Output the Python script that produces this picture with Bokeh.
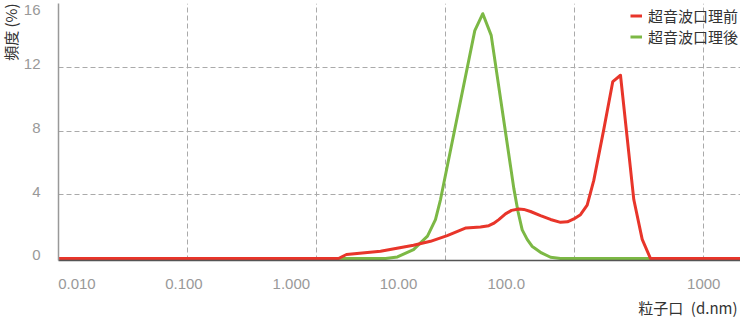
import math
from bokeh.plotting import figure
from bokeh.models import FixedTicker, Range1d, Title, Legend, LegendItem
from bokeh.embed import file_html
from bokeh.resources import INLINE

# --- data (particle size in nm, frequency in %) ---
size_before = [0.01, 1.481, 1.708, 3.135, 5.65, 7.65, 10.31, 14.42, 18.67, 21.66, 23.56,
               25.89, 29.18, 32.49, 37.0, 40.45, 45.6, 54.5, 65.2, 77.9, 88.2, 98.8,
               111.3, 125.4, 141.1, 168.7, 198.1, 227.3, 288.2, 334.9, 388.2, 1936]
freq_before = [0, 0, 0.25, 0.45, 0.83, 1.08, 1.44, 1.92, 1.98, 2.06, 2.2,
               2.44, 2.8, 3.02, 3.1, 3.08, 2.95, 2.69, 2.45, 2.27, 2.3, 2.48,
               2.75, 3.35, 4.9, 8.1, 11.1, 11.5, 3.7, 1.2, 0, 0]

size_after = [0.01, 3.43, 4.24, 5.65, 7.25, 8.36, 9.15, 16.87, 19.46, 22.61, 33.85,
              36.48, 39.32, 42.97, 46.83, 55.5, 65.2, 77.9, 1936]
freq_after = [0, 0, 0.1, 0.56, 1.4, 2.44, 3.7, 14.3, 15.36, 14.0, 4.4,
              2.95, 1.8, 1.2, 0.77, 0.35, 0.08, 0, 0]

series_names = ["超音波口理前", "超音波口理後"]

x_tick_labels = ["0.010", "0.100", "1.000", "10.00", "100.0", "1000"]
x_tick_at = [0.0139, 0.0938, 0.638, 4.32, 29.6, 1005]
x_grid_at = [0.01, 0.1, 1, 10, 100, 1000]

y_tick_labels = ["0", "4", "8", "12", "16"]
y_tick_at = [0.2, 4.2, 8.2, 12.2, 15.6]
y_grid_at = [4, 8, 12]

x_title = "粒子口\u2002(d.nm)"
y_title = "頻度 (%)"

RED = "#e8352a"
GREEN = "#7cb845"
LATIN = "Liberation Sans"
CJK = "Noto Sans CJK JP"

p = figure(width=740, height=320, x_axis_type="log",
           x_range=Range1d(0.01, 1936), y_range=Range1d(-0.125, 16),
           output_backend="svg", toolbar_location=None,
           min_border_left=58, min_border_right=0, min_border_top=3, min_border_bottom=59)
p.outline_line_color = None
p.background_fill_color = None
p.border_fill_color = "white"

r_after = p.line(size_after, freq_after, line_color=GREEN, line_width=3, line_join="round")
r_before = p.line(size_before, freq_before, line_color=RED, line_width=3, line_join="round")

# axes
p.xaxis.ticker = FixedTicker(ticks=x_tick_at, minor_ticks=[])
p.xaxis.major_label_overrides = {v: s for v, s in zip(x_tick_at, x_tick_labels)}
p.yaxis.ticker = FixedTicker(ticks=y_tick_at, minor_ticks=[])
p.yaxis.major_label_overrides = {v: s for v, s in zip(y_tick_at, y_tick_labels)}
for ax in (p.xaxis[0], p.yaxis[0]):
    ax.major_tick_line_color = None
    ax.minor_tick_line_color = None
    ax.major_label_text_font = LATIN
    ax.major_label_text_font_size = "15px"
    ax.major_label_text_color = "#999999"
    ax.major_label_standoff = 12
p.xaxis.axis_line_color = "#555555"
p.xaxis.axis_line_width = 1.5
p.yaxis.axis_line_color = "#999999"
p.yaxis.axis_line_width = 1.5

# grids
p.xgrid.ticker = FixedTicker(ticks=x_grid_at, minor_ticks=[])
p.ygrid.ticker = FixedTicker(ticks=y_grid_at, minor_ticks=[])
for g in (p.xgrid[0], p.ygrid[0]):
    g.grid_line_color = "#aaaaaa"
    g.grid_line_dash = "5 3"
    g.grid_line_width = 1

# axis titles
p.add_layout(Title(text=x_title, align="right", offset=3, standoff=6,
                   text_font=CJK, text_font_size="15px", text_font_style="normal",
                   text_color="#333333"), "below")
p.add_layout(Title(text=y_title, align="right", offset=0, standoff=-4,
                   vertical_align="top",
                   text_font=CJK, text_font_size="15px", text_font_style="normal",
                   text_color="#333333"), "left")

legend = Legend(items=[LegendItem(label=series_names[0], renderers=[r_before]),
                       LegendItem(label=series_names[1], renderers=[r_after])],
                location="top_right", border_line_color=None, background_fill_alpha=0,
                label_text_font=CJK, label_text_font_size="15px", label_text_color="#333333",
                glyph_width=12, glyph_height=21, label_height=21, spacing=0,
                padding=0, margin=2, label_standoff=6)
p.add_layout(legend)

open("out.html", "w").write(file_html(p, INLINE))
